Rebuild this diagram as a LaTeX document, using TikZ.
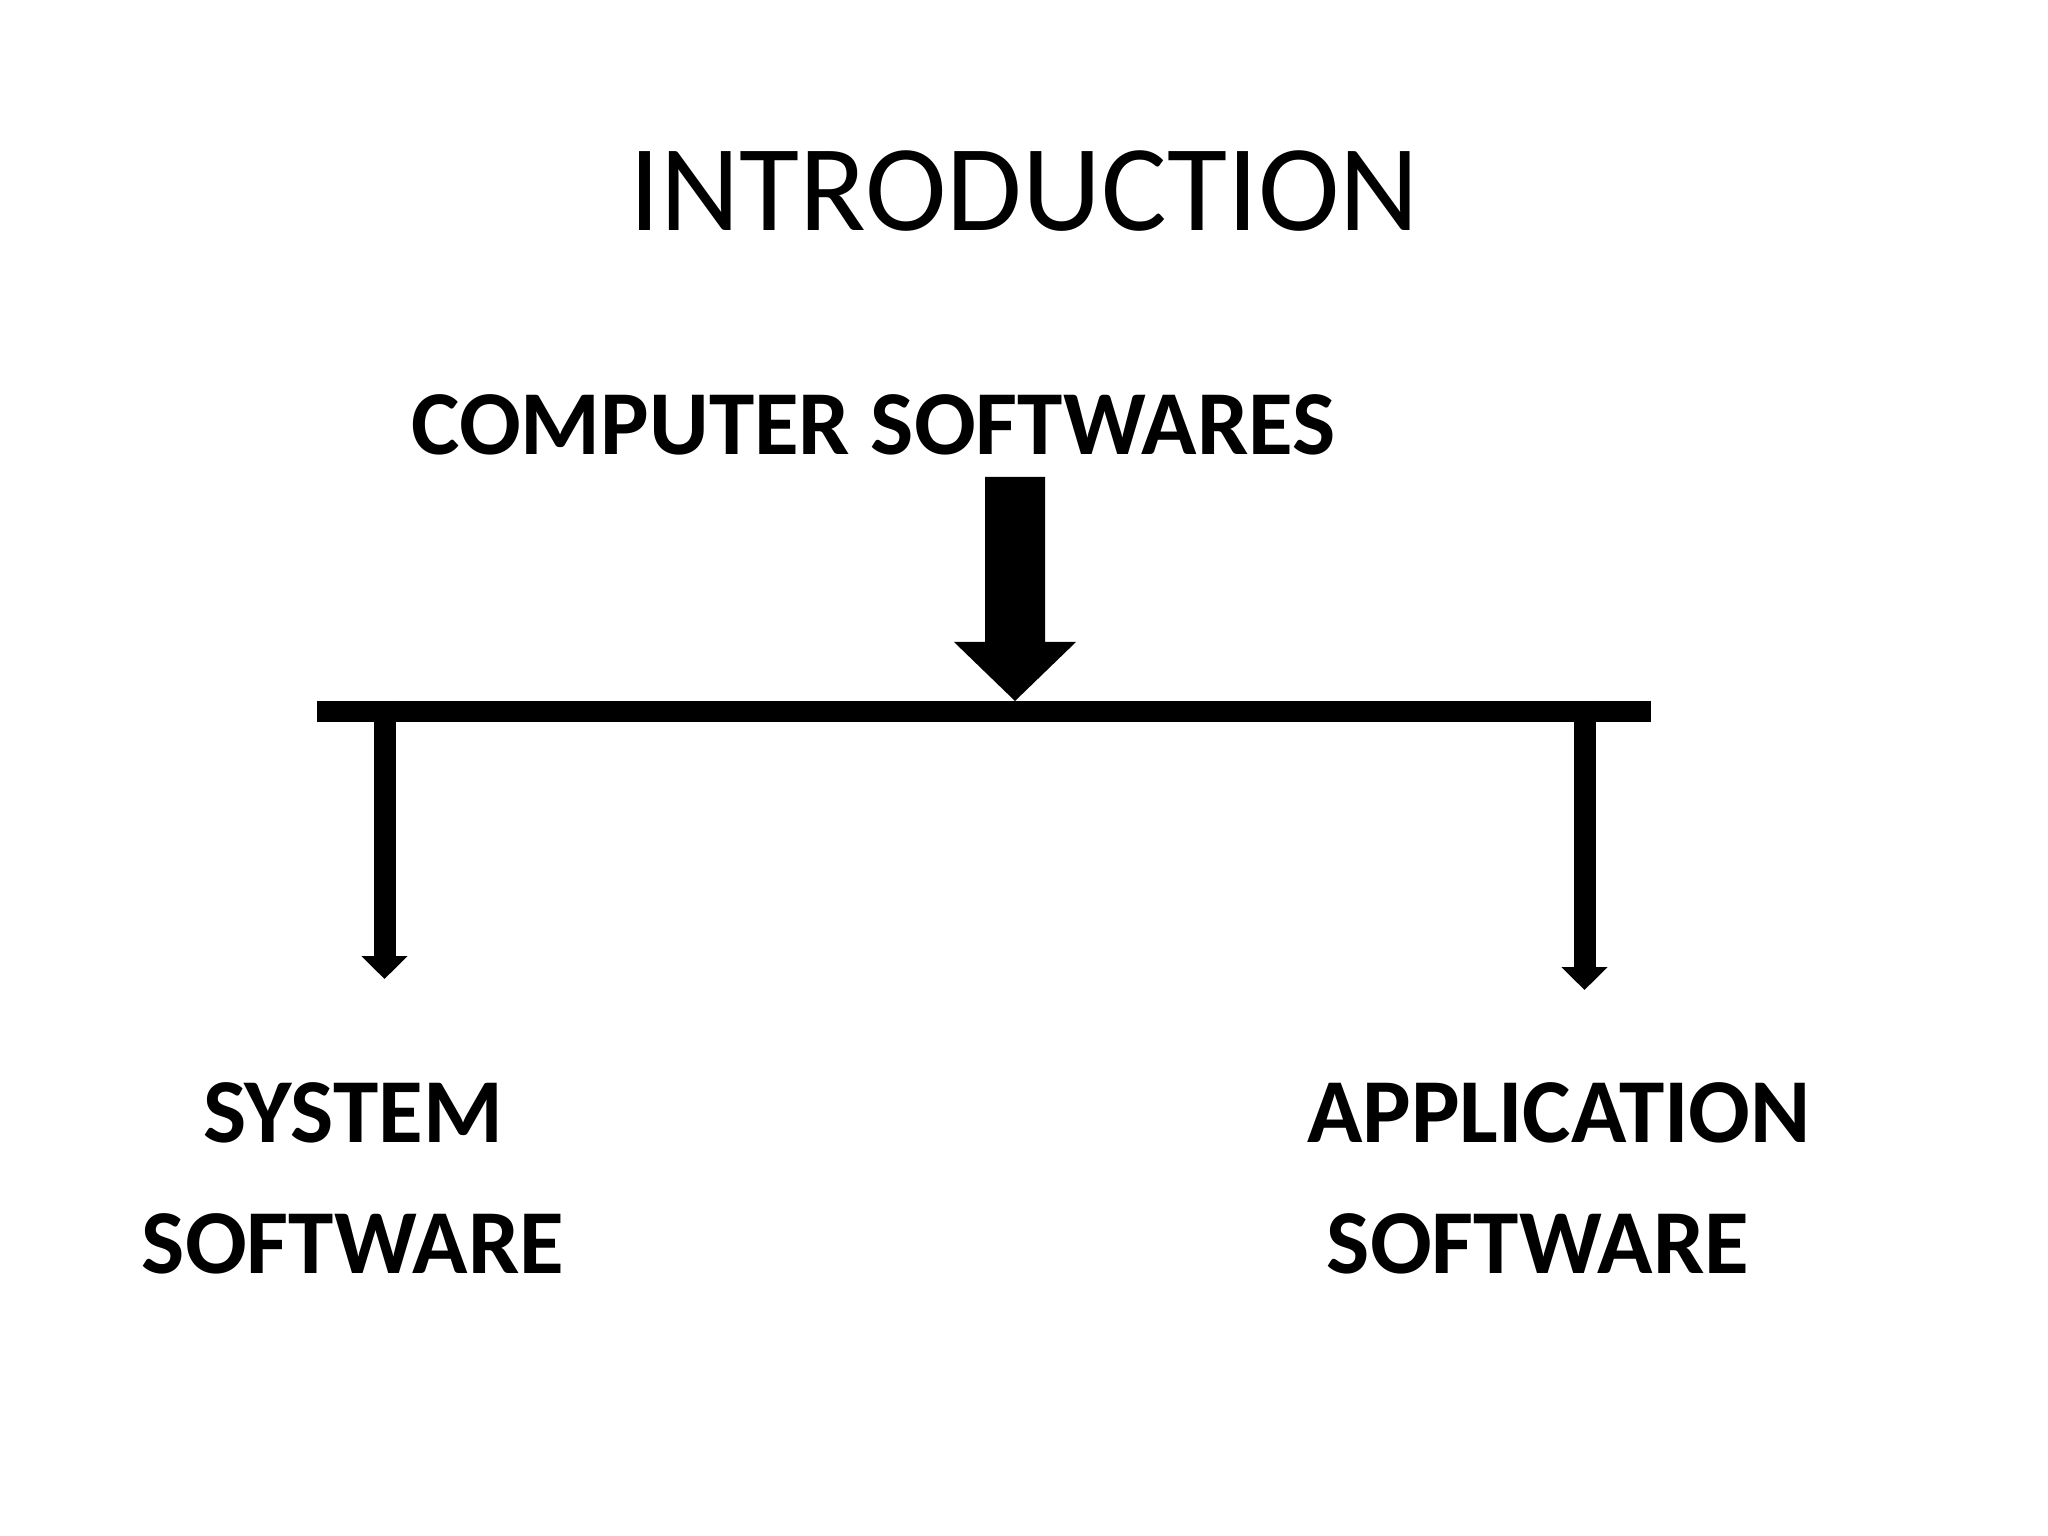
\documentclass[tikz,border=0pt]{standalone}
\usepackage{fontspec}
\setmainfont{Carlito}
\usepackage{tikz}
\usetikzlibrary{arrows.meta,positioning,calc}

\begin{document}
\begin{tikzpicture}[
    title/.style={anchor=base, inner sep=0pt, font=\fontsize{35}{40}\selectfont},
    label/.style={anchor=base, inner sep=0pt, align=center, font=\bfseries\fontsize{26}{37}\selectfont},
    bar/.style={line width=0.21cm},
    branch/.style={line width=0.22cm, -{Triangle[width=0.45cm,length=0.23cm]}}
]
    \useasboundingbox (0,0) rectangle (20.48,-15.36);

    \node[title] (intro) at (10.24,-2.31) {INTRODUCTION};
    \node[label] (soft) at (8.735,-4.55) {COMPUTER SOFTWARES};
    % base anchor sits on the last line
    \node[label] (sys) at (3.53,-12.73) {SYSTEM\\SOFTWARE};
    \node[label] (app) at (15.59,-12.73) {APPLICATION\\SOFTWARE\hspace*{0.42cm}};

    \coordinate (hub) at (10.15,-7.01);
    \coordinate (barL) at (3.17,-7.115);
    \coordinate (barR) at (16.51,-7.115);
    \coordinate (sysTop) at (3.845,-7.01);
    \coordinate (appTop) at (15.845,-7.01);
    \coordinate (sysTip) at (3.845,-9.79);
    \coordinate (appTip) at (15.845,-9.90);

    % big arrow down to the bar
    \fill (hub) -- ++(-0.61,0.59) -- ++(0.31,0) -- ++(0,1.65) -- ++(0.60,0)
        -- ++(0,-1.65) -- ++(0.31,0) -- cycle;
    \draw[bar] (barL) -- (barR);

    \draw[branch] (sysTop) -- (sysTip);
    \draw[branch] (appTop) -- (appTip);
\end{tikzpicture}
\end{document}
